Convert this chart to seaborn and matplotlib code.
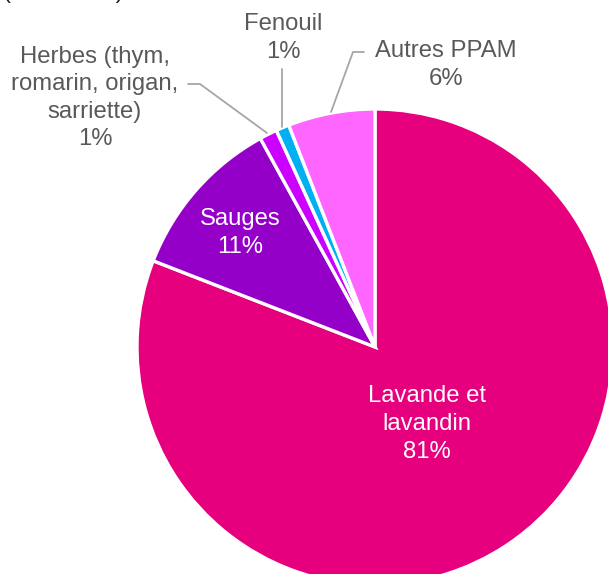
import matplotlib
matplotlib.use('Agg')
import matplotlib.pyplot as plt
import seaborn as sns

# Parts of the surface by crop
categories = ['Lavande et\nlavandin', 'Sauges', 'Herbes (thym,\nromarin, origan,\nsarriette)', 'Fenouil', 'Autres PPAM']
values = [80.9, 11.1, 1.2, 0.9, 5.9]
colors = ['#E6007E', '#9400C8', '#CC00FF', '#00B0F0', '#FF66FF']

sns.set_theme(style='white')
plt.rcParams['font.family'] = ['Liberation Sans', 'DejaVu Sans']

fig = plt.figure(figsize=(6.08, 5.74), dpi=100)
ax = fig.add_axes([0, 0, 1, 1])

wedges, _ = ax.pie(values, colors=colors, startangle=90, counterclock=False,
                   center=(375, 227), radius=238,
                   wedgeprops={'edgecolor': 'white', 'linewidth': 2.4})
ax.set_xlim(0, 608)
ax.set_ylim(0, 574)
ax.set_aspect('equal')
ax.axis('off')

labels = [f'{c}\n{round(v):.0f}%' for c, v in zip(categories, values)]
fs = 17.2
ls = 1.33
grey = '#595959'

# inside labels
ax.text(427, 150, labels[0], color='white', fontsize=fs, ha='center', va='center', linespacing=ls)
ax.text(240, 341, labels[1], color='white', fontsize=fs, ha='center', va='center', linespacing=ls)
# outside labels
ax.text(95, 476, labels[2], color=grey, fontsize=fs, ha='center', va='center', linespacing=ls)
ax.text(283, 536, labels[3], color=grey, fontsize=fs, ha='center', va='center', linespacing=ls)
ax.text(446, 509, labels[4], color=grey, fontsize=fs, ha='center', va='center', linespacing=ls)

# leader lines
lc = '#A6A6A6'
ax.plot([188, 200, 267], [490, 490, 441], color=lc, lw=1.3)
ax.plot([282, 282], [505, 447], color=lc, lw=1.3)
ax.plot([364, 353, 331], [522, 522, 462], color=lc, lw=1.3)

# title, mostly cut off at the top
ax.text(3, 576, '(en tonnes)', color='#222222', fontsize=fs, ha='left', va='baseline')

fig.savefig('out.png', dpi=100)
